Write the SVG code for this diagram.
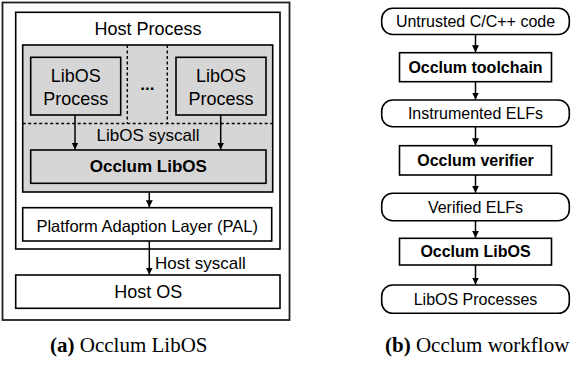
<svg xmlns="http://www.w3.org/2000/svg" width="579" height="373" viewBox="0 0 579 373">
<defs>
<marker id="ah" viewBox="0 0 10 10" refX="10" refY="5" markerWidth="7" markerHeight="7" markerUnits="userSpaceOnUse" orient="auto">
<path d="M0,0 L10,5 L0,10 z" fill="#000"/>
</marker>
<style>
.box{fill:#fff;stroke:#000;stroke-width:1.6}
.gray{fill:#d6d6d6;stroke:#000;stroke-width:1.6}
.frame{fill:#fff;stroke:#222;stroke-width:1.8}
.dash{stroke:#000;stroke-width:1.4;stroke-dasharray:3 2.5;fill:none}
.arr{stroke:#000;stroke-width:1.5;fill:none;marker-end:url(#ah)}
.t{font-family:"Liberation Sans",Arial,sans-serif;font-size:17px;fill:#000;text-anchor:middle;dominant-baseline:central}
.big{font-size:18px}
.tb{font-weight:bold}
.r{font-family:"Liberation Sans",Arial,sans-serif;font-size:16px;fill:#000;text-anchor:middle;dominant-baseline:central}
.cap{font-family:"Liberation Serif","Times New Roman",serif;font-size:21px;fill:#000;text-anchor:start}
</style>
</defs>

<g id="outer-frame"><rect class="frame" x="2.5" y="2.5" width="287" height="317.5"/></g>

<g id="host-process">
<rect class="box" x="15.7" y="12.3" width="264.3" height="236.7"/>
<text class="t big" x="148" y="29">Host Process</text>
</g>

<g id="libos-area">
<rect class="gray" x="22.7" y="45" width="250" height="147"/>
<line class="dash" x1="22.7" y1="123.5" x2="272.7" y2="123.5"/>
<line class="dash" x1="127.3" y1="45" x2="127.3" y2="123.5"/>
<line class="dash" x1="167.3" y1="45" x2="167.3" y2="123.5"/>
<text class="t tb" x="147.3" y="84">...</text>
<text class="t" x="148" y="135.5">LibOS syscall</text>
</g>

<g id="libos-process-1">
<rect class="gray" x="30.7" y="57.3" width="90" height="57.7"/>
<text class="t big" x="75.7" y="76">LibOS</text>
<text class="t big" x="75.7" y="99">Process</text>
</g>

<g id="libos-process-2">
<rect class="gray" x="176" y="57.3" width="90" height="57.7"/>
<text class="t big" x="221" y="76">LibOS</text>
<text class="t big" x="221" y="99">Process</text>
</g>

<g id="occlum-libos">
<rect class="gray" x="30.7" y="150" width="235.3" height="33.3"/>
<text class="t tb" x="148.3" y="166.7">Occlum LibOS</text>
</g>

<g id="pal">
<rect class="box" x="22.7" y="207.7" width="249" height="33.3"/>
<text class="t" x="147.2" y="225.5" style="font-size:16.5px">Platform Adaption Layer (PAL)</text>
</g>

<g id="host-os">
<rect class="box" x="15.7" y="275" width="264.3" height="33.3"/>
<text class="t big" x="148.3" y="292.3">Host OS</text>
</g>

<g id="host-syscall-label">
<text class="t" x="155" y="263.3" style="text-anchor:start">Host syscall</text>
</g>

<g id="wf-untrusted">
<rect class="box" x="381.7" y="8.3" width="187.6" height="26.2" rx="11" ry="11"/>
<text class="r" x="475.5" y="21.4">Untrusted C/C++ code</text>
</g>
<g id="wf-toolchain">
<rect class="box" x="399.5" y="52.7" width="152" height="29"/>
<text class="r tb" x="475.5" y="67.2">Occlum toolchain</text>
</g>
<g id="wf-instrumented">
<rect class="box" x="381.7" y="100" width="187.6" height="26.7" rx="11" ry="11"/>
<text class="r" x="475.5" y="113.3">Instrumented ELFs</text>
</g>
<g id="wf-verifier">
<rect class="box" x="399.5" y="145.7" width="152" height="29.3"/>
<text class="r tb" x="475.5" y="160.3">Occlum verifier</text>
</g>
<g id="wf-verified">
<rect class="box" x="381.7" y="193.3" width="187.6" height="27.4" rx="11" ry="11"/>
<text class="r" x="475.5" y="207">Verified ELFs</text>
</g>
<g id="wf-libos">
<rect class="box" x="399.5" y="238.3" width="152" height="26.7"/>
<text class="r tb" x="475.5" y="251.7">Occlum LibOS</text>
</g>
<g id="wf-processes">
<rect class="box" x="381.7" y="285" width="187.6" height="28.3" rx="11" ry="11"/>
<text class="r" x="475.5" y="299.2">LibOS Processes</text>
</g>

<g id="connectors">
<line class="arr" x1="75" y1="115" x2="75" y2="149.5"/>
<line class="arr" x1="220.7" y1="115" x2="220.7" y2="149.5"/>
<line class="arr" x1="149.3" y1="192" x2="149.3" y2="207.2"/>
<line class="arr" x1="149.3" y1="241" x2="149.3" y2="274.5"/>
<line class="arr" x1="475.5" y1="34.5" x2="475.5" y2="52.2"/>
<line class="arr" x1="475.5" y1="81.7" x2="475.5" y2="99.5"/>
<line class="arr" x1="475.5" y1="126.7" x2="475.5" y2="145.2"/>
<line class="arr" x1="475.5" y1="175" x2="475.5" y2="192.8"/>
<line class="arr" x1="475.5" y1="220.7" x2="475.5" y2="237.8"/>
<line class="arr" x1="475.5" y1="265" x2="475.5" y2="284.5"/>
</g>

<g id="captions">
<text class="cap" x="50" y="352"><tspan font-weight="bold">(a)</tspan> Occlum LibOS</text>
<text class="cap" x="385" y="352"><tspan font-weight="bold">(b)</tspan> Occlum workflow</text>
</g>
</svg>
